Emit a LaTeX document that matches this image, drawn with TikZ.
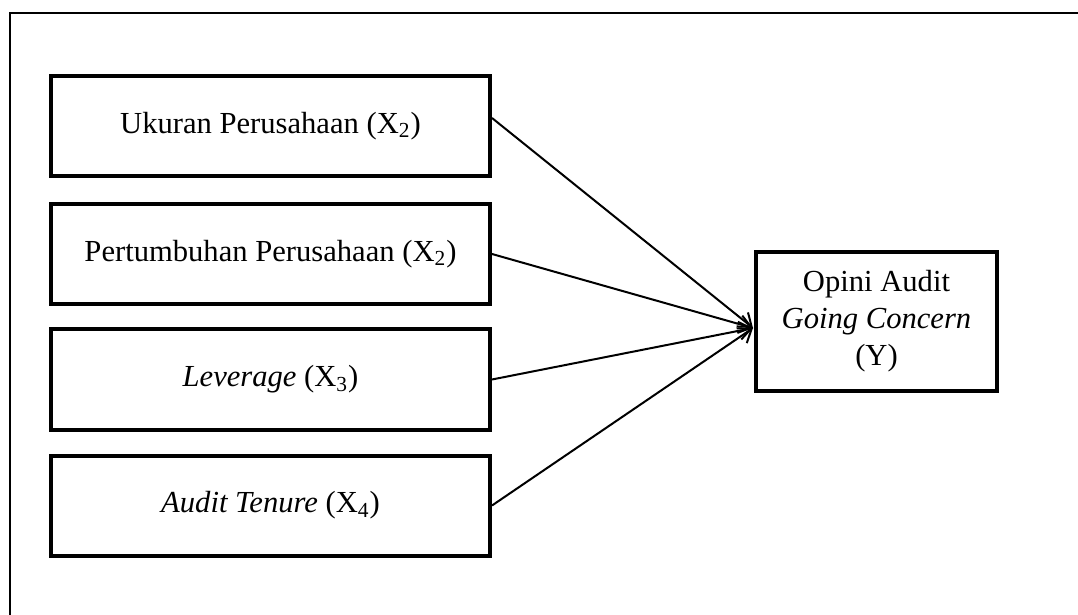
\documentclass[tikz,border=0pt]{standalone}
\usepackage{fontspec}
\setmainfont{Liberation Serif}
\usepackage{tikz}
\usetikzlibrary{positioning,arrows.meta}

\begin{document}
\begin{tikzpicture}[x=0.5pt,y=-0.5pt,
        varbox/.style={draw,line width=2pt,minimum width=219.5pt,minimum height=50pt,
                       font=\fontsize{15.3}{18.5}\selectfont,align=center,inner sep=0pt},
        link/.style={line width=1pt,-{Straight Barb[length=6pt,width=9pt,line width=1pt]}}
    ]
        \useasboundingbox (0,0) rectangle (1078,615);
        \clip (0,0) rectangle (1078,615);
        % outer frame (cut off at right and bottom)
        \draw[line width=1pt] (10,13) rectangle (1100,640);

        \node[varbox] (x1) at (270.5,126) {Ukuran Perusahaan (X\textsubscript{2})};
        \node[varbox] (x2) at (270.5,254) {Pertumbuhan Perusahaan (X\textsubscript{2})};
        \node[varbox] (x3) at (270.5,379.5) {\textit{Leverage} (X\textsubscript{3})};
        \node[varbox] (x4) at (270.5,505.5) {\textit{Audit Tenure} (X\textsubscript{4})};

        \node[varbox,minimum width=120.5pt,minimum height=69.5pt] (y) at (876.5,321.5)
            {Opini Audit\\\textit{Going Concern}\\(Y)};
        \coordinate (tip) at (753,328);

        \draw[link] (x1.east) ++(0,-8) -- (tip);
        \draw[link] (x2.east) -- (tip);
        \draw[link] (x3.east) -- (tip);
        \draw[link] (x4.east) -- (tip);
    \end{tikzpicture}
\end{document}
